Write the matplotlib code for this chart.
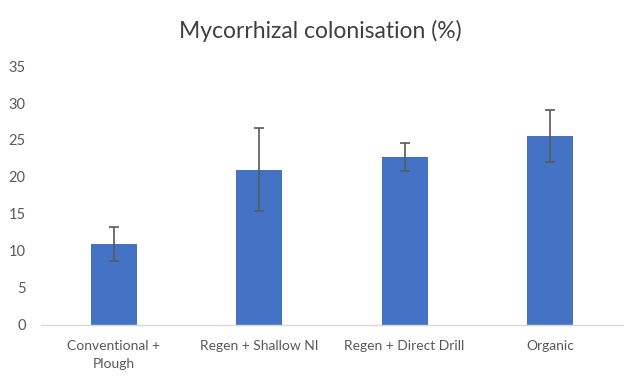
import matplotlib
matplotlib.use("Agg")
import matplotlib.pyplot as plt
import numpy as np

# data
categories = ["Conventional +\nPlough", "Regen + Shallow NI", "Regen + Direct Drill", "Organic"]
means = [11.0, 21.0, 22.7, 25.5]
errors = [2.3, 5.6, 1.9, 3.5]
yticks = [0, 5, 10, 15, 20, 25, 30, 35]

plt.rcParams['font.family'] = ['Lato', 'DejaVu Sans']

fig = plt.figure(figsize=(6.4, 3.84), dpi=100)
ax = fig.add_axes([0.064, 0.154, 0.909, 0.674])

x = np.arange(len(categories))
ax.bar(x, means, width=0.316, color='#4472C4', zorder=2)
ax.errorbar(x, means, yerr=errors, fmt='none', ecolor='#595959',
            elinewidth=1.2, capsize=3.5, capthick=1.2, zorder=3)

ax.set_xlim(-0.5, 3.5)
ax.set_ylim(0, 35)
ax.set_yticks(yticks)
ax.set_xticks(x)
ax.set_xticklabels(categories, fontsize=10, color='#595959', linespacing=1.55)
ax.tick_params(axis='y', labelsize=10.5, labelcolor='#595959', length=0, pad=11)
ax.tick_params(axis='x', length=0, pad=11)

for s in ['top', 'right', 'left']:
    ax.spines[s].set_visible(False)
ax.spines['bottom'].set_color('#D9D9D9')
ax.spines['bottom'].set_linewidth(1)

fig.text(0.5, 0.92, "Mycorrhizal colonisation (%)", ha='center', va='center',
         fontsize=16.5, color='#404040')

plt.savefig('out.png', dpi=100)
